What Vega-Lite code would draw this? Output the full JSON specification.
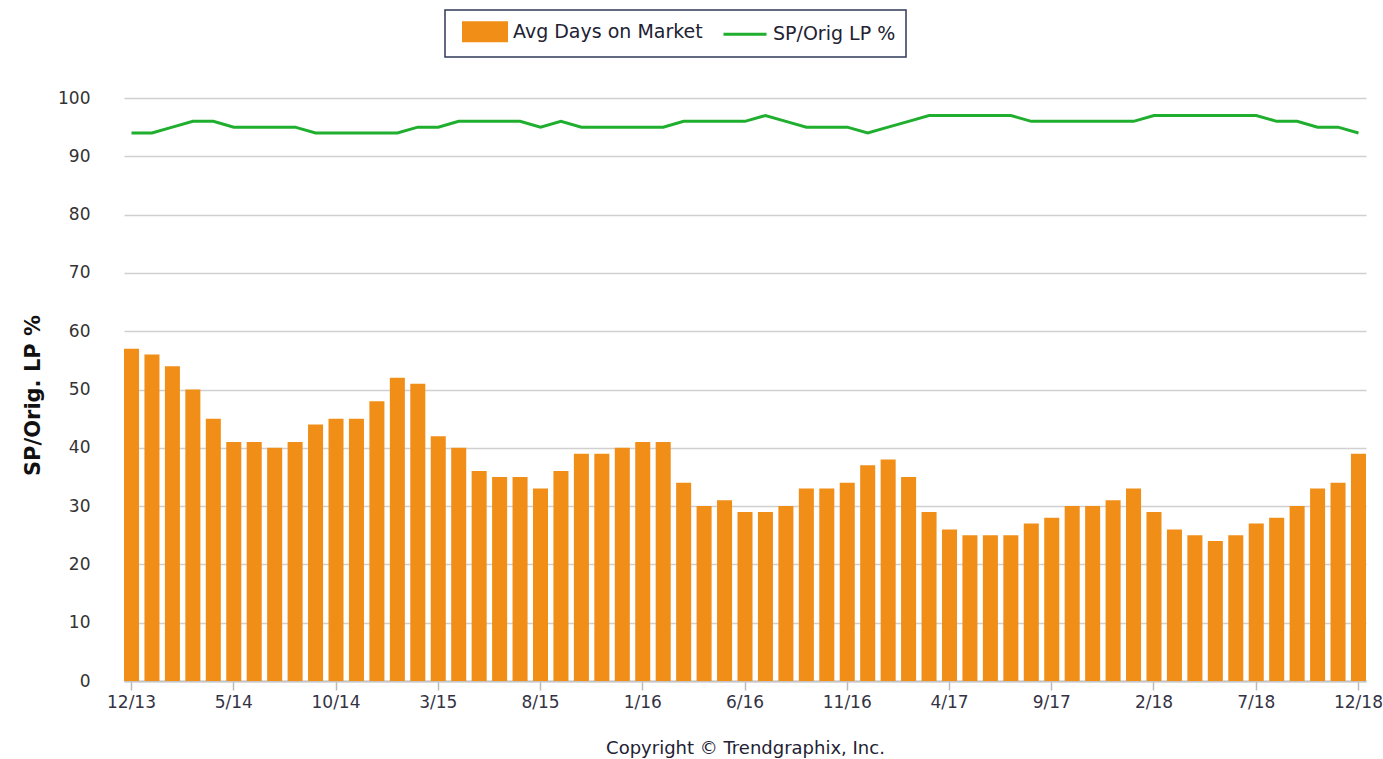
{
  "$schema": "https://vega.github.io/schema/vega-lite/v6.json",
  "width": 1282,
  "height": 583,
  "autosize": {"type": "none"},
  "padding": {"left": 97, "top": 98, "right": 4, "bottom": 78},
  "background": "white",
  "config": {
    "view": {"stroke": null},
    "font": "DejaVu Sans"
  },
  "data": {
    "values": [
      {"m": "12/13", "days": 57, "pct": 94},
      {"m": "1/14", "days": 56, "pct": 94},
      {"m": "2/14", "days": 54, "pct": 95},
      {"m": "3/14", "days": 50, "pct": 96},
      {"m": "4/14", "days": 45, "pct": 96},
      {"m": "5/14", "days": 41, "pct": 95},
      {"m": "6/14", "days": 41, "pct": 95},
      {"m": "7/14", "days": 40, "pct": 95},
      {"m": "8/14", "days": 41, "pct": 95},
      {"m": "9/14", "days": 44, "pct": 94},
      {"m": "10/14", "days": 45, "pct": 94},
      {"m": "11/14", "days": 45, "pct": 94},
      {"m": "12/14", "days": 48, "pct": 94},
      {"m": "1/15", "days": 52, "pct": 94},
      {"m": "2/15", "days": 51, "pct": 95},
      {"m": "3/15", "days": 42, "pct": 95},
      {"m": "4/15", "days": 40, "pct": 96},
      {"m": "5/15", "days": 36, "pct": 96},
      {"m": "6/15", "days": 35, "pct": 96},
      {"m": "7/15", "days": 35, "pct": 96},
      {"m": "8/15", "days": 33, "pct": 95},
      {"m": "9/15", "days": 36, "pct": 96},
      {"m": "10/15", "days": 39, "pct": 95},
      {"m": "11/15", "days": 39, "pct": 95},
      {"m": "12/15", "days": 40, "pct": 95},
      {"m": "1/16", "days": 41, "pct": 95},
      {"m": "2/16", "days": 41, "pct": 95},
      {"m": "3/16", "days": 34, "pct": 96},
      {"m": "4/16", "days": 30, "pct": 96},
      {"m": "5/16", "days": 31, "pct": 96},
      {"m": "6/16", "days": 29, "pct": 96},
      {"m": "7/16", "days": 29, "pct": 97},
      {"m": "8/16", "days": 30, "pct": 96},
      {"m": "9/16", "days": 33, "pct": 95},
      {"m": "10/16", "days": 33, "pct": 95},
      {"m": "11/16", "days": 34, "pct": 95},
      {"m": "12/16", "days": 37, "pct": 94},
      {"m": "1/17", "days": 38, "pct": 95},
      {"m": "2/17", "days": 35, "pct": 96},
      {"m": "3/17", "days": 29, "pct": 97},
      {"m": "4/17", "days": 26, "pct": 97},
      {"m": "5/17", "days": 25, "pct": 97},
      {"m": "6/17", "days": 25, "pct": 97},
      {"m": "7/17", "days": 25, "pct": 97},
      {"m": "8/17", "days": 27, "pct": 96},
      {"m": "9/17", "days": 28, "pct": 96},
      {"m": "10/17", "days": 30, "pct": 96},
      {"m": "11/17", "days": 30, "pct": 96},
      {"m": "12/17", "days": 31, "pct": 96},
      {"m": "1/18", "days": 33, "pct": 96},
      {"m": "2/18", "days": 29, "pct": 97},
      {"m": "3/18", "days": 26, "pct": 97},
      {"m": "4/18", "days": 25, "pct": 97},
      {"m": "5/18", "days": 24, "pct": 97},
      {"m": "6/18", "days": 25, "pct": 97},
      {"m": "7/18", "days": 27, "pct": 97},
      {"m": "8/18", "days": 28, "pct": 96},
      {"m": "9/18", "days": 30, "pct": 96},
      {"m": "10/18", "days": 33, "pct": 95},
      {"m": "11/18", "days": 34, "pct": 95},
      {"m": "12/18", "days": 39, "pct": 94}
    ]
  },
  "encoding": {
    "x": {
      "field": "m",
      "type": "ordinal",
      "sort": null,
      "scale": {"type": "band", "range": [27, 1269], "paddingInner": 0.265, "paddingOuter": 0},
      "axis": {
        "values": ["12/13", "5/14", "10/14", "3/15", "8/15", "1/16", "6/16", "11/16", "4/17", "9/17", "2/18", "7/18", "12/18"],
        "labelAngle": 0,
        "labelFontSize": 17,
        "labelColor": "#333344",
        "labelPadding": 4,
        "tickSize": 9,
        "tickColor": "#bbbbbb",
        "tickWidth": 1.5,
        "domainColor": "#c4c4c4",
        "domainWidth": 2,
        "grid": false,
        "title": "Copyright © Trendgraphix, Inc.",
        "titleFontSize": 18,
        "titleFontWeight": "normal",
        "titleColor": "#222233",
        "titleBaseline": "middle",
        "titleY": 67
      }
    }
  },
  "layer": [
    {
      "mark": {"type": "bar", "fill": "#F08E17"},
      "encoding": {
        "y": {
          "field": "days",
          "type": "quantitative",
          "scale": {"domain": [0, 100], "nice": false},
          "axis": {
            "values": [0, 10, 20, 30, 40, 50, 60, 70, 80, 90, 100],
            "title": "SP/Orig. LP %",
            "titleFontSize": 21,
            "titleFontWeight": "bold",
            "titleColor": "#111111",
            "titleX": -64,
            "titleY": 297,
            "titleAngle": -90,
            "titleAlign": "center",
            "titleBaseline": "middle",
            "labelFontSize": 17,
            "labelColor": "#333333",
            "labelPadding": 7,
            "domain": false,
            "ticks": false,
            "gridColor": "#d0d0d0",
            "gridWidth": 1.5
          }
        },
        "color": {
          "datum": "Avg Days on Market",
          "type": "nominal",
          "scale": {"domain": ["Avg Days on Market", "SP/Orig LP %"], "range": ["#F08E17", "#1FAE2E"]},
          "legend": {
            "orient": "none",
            "legendX": 348,
            "legendY": -88,
            "direction": "horizontal",
            "title": null,
            "strokeColor": "#2e3a58",
            "fillColor": "white",
            "padding": 10,
            "symbolSize": 400,
            "labelFontSize": 19,
            "labelLimit": 400,
            "labelColor": "#222233",
            "labelOffset": 35,
            "columnPadding": 12,
            "encode": {
              "legend": {
                "update": {"strokeWidth": {"value": 1.5}}
              },
              "symbols": {
                "update": {
                  "shape": {"signal": "datum.value === 'Avg Days on Market' ? 'M-0.3,-0.9H4V0.9H-0.3Z' : 'M-0.3,0H4'"},
                  "fill": {"signal": "datum.value === 'Avg Days on Market' ? '#F08E17' : 'transparent'"},
                  "stroke": {"signal": "datum.value === 'Avg Days on Market' ? 'transparent' : '#1FAE2E'"},
                  "strokeWidth": {"value": 3},
                  "opacity": {"value": 1}
                }
              }
            }
          }
        }
      }
    },
    {
      "mark": {"type": "line", "strokeWidth": 3},
      "encoding": {
        "y": {"field": "pct", "type": "quantitative"},
        "color": {"datum": "SP/Orig LP %", "type": "nominal"}
      }
    }
  ]
}
